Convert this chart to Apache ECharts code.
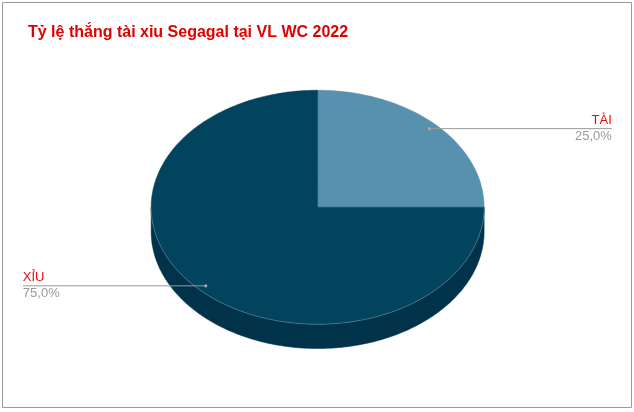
<!DOCTYPE html>
<html>
<head>
<meta charset="utf-8">
<script src="https://cdn.jsdelivr.net/npm/echarts@6/dist/echarts.min.js"></script>
<style>
  html, body { margin: 0; padding: 0; background: #fff; }
  #main { width: 634px; height: 412px; }
</style>
</head>
<body>
<div id="main"></div>
<script>
var myChart = echarts.init(document.getElementById('main'));

// du lieu
var categories = ['TÀI', 'XỈU'];
var values = [25, 75];
var percentLabels = ['25,0%', '75,0%'];

var total = values.reduce(function (a, b) { return a + b; }, 0);
var colors = ['#5891ad', '#02435e'];
var sideColors = ['#3c6a80', '#00324a'];

// tinh diem tren elip, goc tinh tu 12h theo chieu kim dong ho
function pt(g, a, dy) {
    return [g.cx + g.rx * Math.sin(a), g.cy - g.ry * Math.cos(a) + (dy || 0)];
}

function arcPoints(g, a0, a1, dy) {
    var n = Math.max(2, Math.ceil((a1 - a0) / 0.02));
    var pts = [];
    for (var i = 0; i <= n; i++) {
        pts.push(pt(g, a0 + (a1 - a0) * i / n, dy));
    }
    return pts;
}

function renderItem(params, api) {
    var W = api.getWidth(), H = api.getHeight();
    var g = { cx: W * 0.501, cy: H * 0.503, rx: W * 0.2626, ry: H * 0.284, depth: H * 0.059 };
    var idx = params.dataIndex;
    var before = 0;
    for (var i = 0; i < idx; i++) before += values[i];
    var a0 = before / total * Math.PI * 2;
    var a1 = (before + api.value(0)) / total * Math.PI * 2;
    var children = [];

    // mat ben (chi nua truoc)
    var s0 = Math.max(a0, Math.PI / 2), s1 = Math.min(a1, Math.PI * 1.5);
    if (s1 > s0) {
        var topArc = arcPoints(g, s0, s1, 0);
        var botArc = arcPoints(g, s0, s1, g.depth).reverse();
        children.push({
            type: 'polygon', z2: 1,
            shape: { points: topArc.concat(botArc) },
            style: { fill: sideColors[idx], stroke: sideColors[idx], lineWidth: 0.5 }
        });
        children.push({
            type: 'polyline', z2: 20,
            shape: { points: topArc },
            style: { stroke: 'rgba(150,190,210,0.6)', lineWidth: 0.6, fill: null }
        });
    }

    // mat tren
    var topPts = [[g.cx, g.cy]].concat(arcPoints(g, a0, a1, 0));
    children.push({
        type: 'polygon', z2: 10,
        shape: { points: topPts },
        style: { fill: colors[idx], stroke: colors[idx], lineWidth: 0.5 }
    });

    // nhan + duong dan
    var mid = (a0 + a1) / 2;
    var dot = [g.cx + g.rx * 0.95 * Math.sin(mid), g.cy - g.ry * 0.95 * Math.cos(mid)];
    var right = Math.sin(mid) > 0;
    var endX = right ? W * 0.965 : W * 0.036;
    children.push({
        type: 'line', z2: 30,
        shape: { x1: dot[0], y1: dot[1], x2: endX, y2: dot[1] },
        style: { stroke: '#999', lineWidth: 1 }
    });
    children.push({
        type: 'circle', z2: 31,
        shape: { cx: dot[0], cy: dot[1], r: 1.6 },
        style: { fill: '#aaa' }
    });
    children.push({
        type: 'text', z2: 32,
        style: {
            x: endX, y: dot[1] - 2, text: categories[idx],
            align: right ? 'right' : 'left', verticalAlign: 'bottom',
            fill: '#e01010', fontSize: 13, fontFamily: 'Liberation Sans, Arial'
        }
    });
    children.push({
        type: 'text', z2: 32,
        style: {
            x: endX, y: dot[1] + 1, text: percentLabels[idx],
            align: right ? 'right' : 'left', verticalAlign: 'top',
            fill: '#999', fontSize: 13, fontFamily: 'Liberation Sans, Arial'
        }
    });

    return { type: 'group', children: children };
}

var option = {
    backgroundColor: '#fff',
    animation: false,
    title: {
        text: 'Tỷ lệ thắng tài xỉu Segagal tại VL WC 2022',
        left: 23,
        top: 20,
        textStyle: { color: '#e00000', fontSize: 16, fontWeight: 'bold', fontFamily: 'Liberation Sans, Arial' }
    },
    graphic: [
        {
            type: 'rect', z: -1,
            shape: { x: 2.5, y: 2.5, width: 629, height: 405 },
            style: { fill: '#fff', stroke: '#9a9a9a', lineWidth: 1 }
        }
    ],
    series: [
        {
            type: 'custom',
            coordinateSystem: 'none',
            renderItem: renderItem,
            data: values.map(function (v, i) { return { name: categories[i], value: [v] }; })
        }
    ]
};

myChart.setOption(option);
</script>
</body>
</html>
